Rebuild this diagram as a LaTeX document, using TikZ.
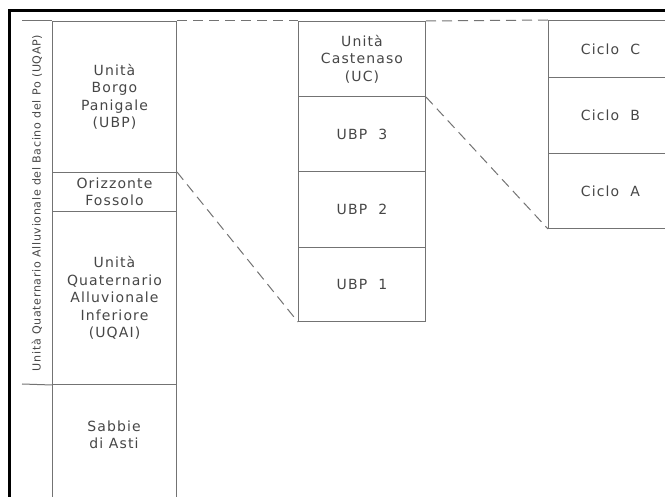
\documentclass[tikz,border=0pt]{standalone}
\usepackage{fontspec}
\setmainfont{DejaVu Sans}
\newfontfamily\cadfont[LetterSpace=8]{DejaVu Sans}
\newfontfamily\cadsmall[LetterSpace=6]{DejaVu Sans}
\definecolor{linegray}{RGB}{115,115,115}
\definecolor{txtgray}{RGB}{70,70,70}
\begin{document}
\begin{tikzpicture}[x=1pt,y=-1pt,
  lbl/.style={text=txtgray, font=\cadfont\fontsize{14}{17.5}\selectfont, align=center, inner sep=0pt},
  cell/.style 2 args={draw=linegray, line width=1pt, minimum width=#1, minimum height=#2,
     inner sep=0pt, anchor=north west, text=txtgray, font=\cadfont\fontsize{14}{17.5}\selectfont, align=center},
  gline/.style={draw=linegray, line width=1pt},
  corr/.style={draw=linegray, line width=1pt, dash pattern=on 10pt off 6pt},
  outerframe/.style={draw=black, line width=2.2pt}
]
\useasboundingbox (0,0) rectangle (665,497);
\begin{scope}
\clip (0,0) rectangle (665,497);
% column 1
\coordinate (s1) at (22,21);
\coordinate (s2) at (22,384);
\node[cell={124pt}{151pt}] (ubp) at (52,21) {Unità\\Borgo\\Panigale\\(UBP)};
\node[cell={124pt}{39pt}] (fos) at (52,172) {Orizzonte\\Fossolo};
\node[cell={124pt}{173pt}] (uqai) at (52,211) {Unità\\Quaternario\\Alluvionale\\Inferiore\\(UQAI)};
\node[cell={124pt}{130pt}] (asti) at (52,384) {};
\node[lbl] (astit) at (114,435) {Sabbie\\di Asti};
\draw[gline] (s1) -- (ubp.north west);
\draw[gline] (s2) -- (uqai.south west);
\node[lbl, rotate=90, font=\cadsmall\fontsize{11.1}{13}\selectfont] (uqap) at (37,203)
  {Unità Quaternario Alluvionale del Bacino del Po (UQAP)};

% column 2
\node[cell={127pt}{75pt}] (uc) at (298,21) {Unità\\Castenaso\\(UC)};
\node[cell={127pt}{75pt}] (ubp3) at (298,96) {UBP~~3};
\node[cell={127pt}{76pt}] (ubp2) at (298,171) {UBP~~2};
\node[cell={127pt}{74pt}] (ubp1) at (298,247) {UBP~~1};

% column 3
\node[cell={124pt}{57pt}] (cc) at (548,20) {Ciclo~~C};
\node[cell={124pt}{76pt}] (cb) at (548,77) {Ciclo~~B};
\node[cell={124pt}{75pt}] (ca) at (548,153) {Ciclo~~A};

% correlations
\draw[corr] (ubp.north east) -- (uc.north west);
\draw[corr] (uc.north east) -- (cc.north west);
\draw[corr] (fos.north east) -- (ubp1.south west);
\draw[corr] (uc.south east) -- (ca.south west);
\end{scope}
% frame
\coordinate (fbl) at (9.5,497);
\coordinate (ftl) at (9.5,10.5);
\coordinate (ftr) at (665,10.5);
\draw[outerframe] (fbl) -- (ftl) -- (ftr);
\end{tikzpicture}
\end{document}
